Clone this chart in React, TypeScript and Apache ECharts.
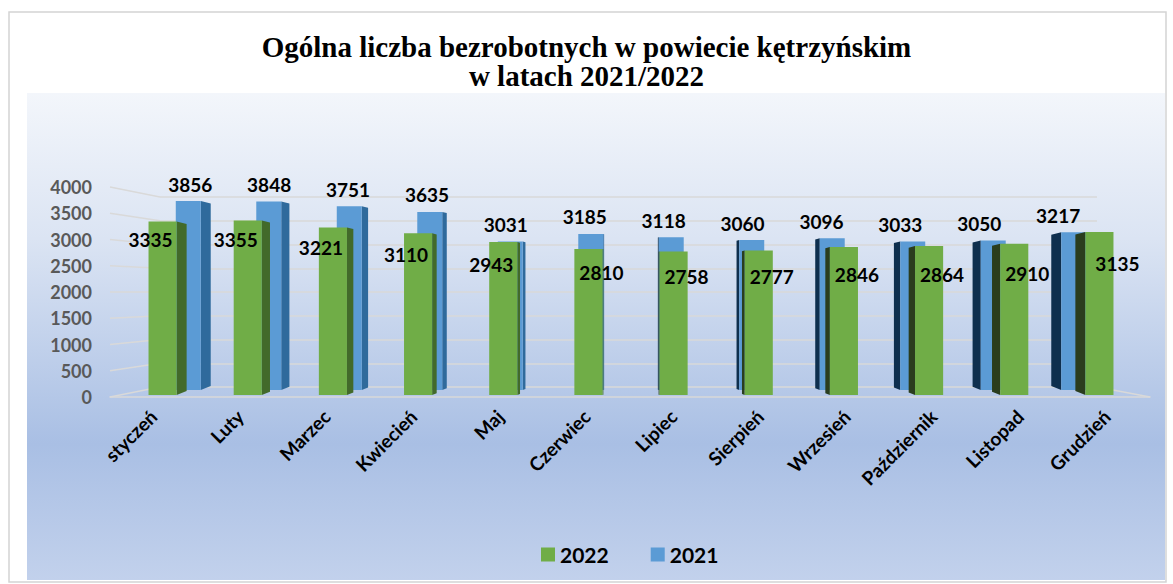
import React, { useEffect, useRef } from "react";
import * as echarts from "echarts";

const months = ["styczeń", "Luty", "Marzec", "Kwiecień", "Maj", "Czerwiec", "Lipiec", "Sierpień", "Wrzesień", "Październik", "Listopad", "Grudzień"];
const values2022 = [3335, 3355, 3221, 3110, 2943, 2810, 2758, 2777, 2846, 2864, 2910, 3135];
const values2021 = [3856, 3848, 3751, 3635, 3031, 3185, 3118, 3060, 3096, 3033, 3050, 3217];
const seriesNames = ["2022", "2021"];
const yMin = 0;
const yMax = 4000;
const yStep = 500;
const titleText = "Ogólna liczba bezrobotnych w powiecie kętrzyńskim\nw latach 2021/2022";

const W = 1173;
const H = 584;
const FONT = "Lato";
const N = months.length;
const MID = (N - 1) / 2;

const GREEN = "#70ad47";
const GREEN_SIDE_L = "#426a2a";
const GREEN_SIDE_R = "#2a3d1e";
const BLUE = "#5b9bd5";
const BLUE_SIDE_L = "#2f6a9c";
const BLUE_SIDE_R = "#0e2f4e";

function sideWidth(i: number) {
  return ((MID - i) / MID) * 10;
}

function barShape(i: number, top: number[], base: number[], w: number, front: string, sideL: string, sideR: string) {
  const s = sideWidth(i);
  const x0 = top[0] - w / 2;
  const x1 = top[0] + w / 2;
  const children: any[] = [];
  const ex = s >= 0 ? x1 : x0;
  const col = s >= 0 ? sideL : sideR;
  const a = Math.abs(s);
  children.push({
    type: "polygon",
    shape: {
      points: [
        [ex, top[1]],
        [ex + s, top[1] + a * 0.25],
        [ex + s, base[1] - a * 0.4],
        [ex, base[1]],
      ],
    },
    style: { fill: col },
  });
  children.push({
    type: "rect",
    shape: { x: x0, y: top[1], width: w, height: base[1] - top[1] },
    style: { fill: front },
  });
  return children;
}

export default function App() {
  const ref = useRef<HTMLDivElement>(null);
  useEffect(() => {
    document.body.style.margin = "0";
    const chart = echarts.init(ref.current!, null, { renderer: "svg" });
    const yAxisBase = { type: "value", min: yMin, max: yMax, interval: yStep };
    const hiddenX = (g: number) => ({
      type: "category",
      data: months,
      gridIndex: g,
      show: false,
    });
    const option: any = {
      animation: false,
      title: {
        text: titleText,
        left: "center",
        top: 27,
        textStyle: {
          fontFamily: "Liberation Serif",
          fontWeight: "bold",
          fontSize: 29,
          lineHeight: 29,
          color: "#000",
        },
      },
      legend: {
        data: seriesNames,
        left: 536,
        top: 539,
        icon: "rect",
        itemWidth: 14,
        itemHeight: 14,
        itemGap: 42,
        textStyle: { fontFamily: FONT, fontWeight: "bold", fontSize: 21, color: "#000" },
      },
      grid: [
        { left: 110, top: 187, width: 1040, height: 210 },
        { left: 148, top: 194, width: 966, height: 196 },
        { left: 120, top: 187, width: 1022, height: 208 },
        { left: 160, top: 197, width: 937, height: 190 },
      ],
      xAxis: [
        {
          type: "category",
          data: months,
          gridIndex: 0,
          axisLine: { lineStyle: { color: "#d9d9d9", width: 1.5 } },
          axisTick: { show: false },
          axisLabel: {
            rotate: 45,
            margin: 16,
            fontFamily: FONT,
            fontWeight: "bold",
            fontSize: 19,
            color: "#000",
            interval: 0,
          },
        },
        hiddenX(1),
        hiddenX(2),
        hiddenX(3),
      ],
      yAxis: [
        {
          ...yAxisBase,
          gridIndex: 0,
          axisLine: { show: false },
          axisTick: { show: false },
          splitLine: { show: false },
          axisLabel: {
            margin: 18,
            fontFamily: FONT,
            fontWeight: "bold",
            fontSize: 18,
            color: "#595959",
            formatter: (v: number) => String(v),
          },
        },
        { ...yAxisBase, gridIndex: 1, show: false },
        { ...yAxisBase, gridIndex: 2, show: false },
        {
          ...yAxisBase,
          gridIndex: 3,
          axisLine: { show: false },
          axisTick: { show: false },
          axisLabel: { show: false },
          splitLine: { show: true, lineStyle: { color: "#d9d9d9", width: 1.5 } },
        },
      ],
      series: [
        {
          name: "2021",
          type: "custom",
          xAxisIndex: 1,
          yAxisIndex: 1,
          z: 3,
          itemStyle: { color: BLUE },
          data: values2021.map((v, i) => [i, v]),
          renderItem: (params: any, api: any) => {
            const i = api.value(0);
            const v = api.value(1);
            const top = api.coord([i, v]);
            const base = api.coord([i, 0]);
            const w = api.size([1, 0])[0] * 0.31;
            const children = barShape(i, top, base, w, BLUE, BLUE_SIDE_L, BLUE_SIDE_R);
            children.push({
              type: "text",
              z2: 50,
              style: {
                text: String(v),
                x: top[0] + 2 - 1.6 * i,
                y: top[1] - 17,
                align: "center",
                verticalAlign: "middle",
                font: `bold 19px ${FONT}`,
                fill: "#000",
              },
            });
            return { type: "group", children };
          },
        },
        {
          name: "2022",
          type: "custom",
          xAxisIndex: 2,
          yAxisIndex: 2,
          z: 4,
          itemStyle: { color: GREEN },
          data: values2022.map((v, i) => [i, v]),
          renderItem: (params: any, api: any) => {
            const i = api.value(0);
            const v = api.value(1);
            const top = api.coord([i, v]);
            const base = api.coord([i, 0]);
            const w = api.size([1, 0])[0] * 0.33;
            const children = barShape(i, top, base, w, GREEN, GREEN_SIDE_L, GREEN_SIDE_R);
            const dx = i < 5 ? -12 : i === N - 1 ? 18 : 13;
            children.push({
              type: "text",
              z2: 50,
              style: {
                text: String(v),
                x: top[0] + dx,
                y: top[1] + 18 + i * 1.2,
                align: "center",
                verticalAlign: "middle",
                font: `bold 19px ${FONT}`,
                fill: "#000",
              },
            });
            return { type: "group", children };
          },
        },
      ],
      graphic: [
        {
          type: "rect",
          z: -100,
          silent: true,
          shape: { x: 9, y: 12, width: 1157, height: 570 },
          style: { fill: "#fff", stroke: "#d4d4d4", lineWidth: 1.5 },
        },
        {
          type: "rect",
          z: -99,
          silent: true,
          shape: { x: 27, y: 93, width: 1138, height: 487 },
          style: {
            fill: new echarts.graphic.LinearGradient(0, 0, 0, 1, [
              { offset: 0, color: "#f3f6fb" },
              { offset: 0.3, color: "#dbe4f3" },
              { offset: 0.72, color: "#a9bfe4" },
              { offset: 1, color: "#c2d1ec" },
            ]),
          },
        },
      ],
    };
    chart.setOption(option);

    // side-wall perspective lines joining front axis to back wall
    const walls: any[] = [];
    for (let v = yMin; v <= yMax; v += yStep) {
      const fy = chart.convertToPixel({ yAxisIndex: 0 }, v) as number;
      const by = chart.convertToPixel({ yAxisIndex: 3 }, v) as number;
      walls.push({
        type: "line",
        z: -50,
        silent: true,
        shape: { x1: 110, y1: fy, x2: 160, y2: by },
        style: { stroke: "#d9d9d9", lineWidth: 1.5 },
      });
    }
    const fy0 = chart.convertToPixel({ yAxisIndex: 0 }, 0) as number;
    const by0 = chart.convertToPixel({ yAxisIndex: 3 }, 0) as number;
    walls.push({
      type: "line",
      z: -50,
      silent: true,
      shape: { x1: 1150, y1: fy0, x2: 1097, y2: by0 },
      style: { stroke: "#d9d9d9", lineWidth: 1.5 },
    });
    chart.setOption({ graphic: [...option.graphic, ...walls] });

    return () => chart.dispose();
  }, []);
  return <div ref={ref} style={{ width: W, height: H }} />;
}
